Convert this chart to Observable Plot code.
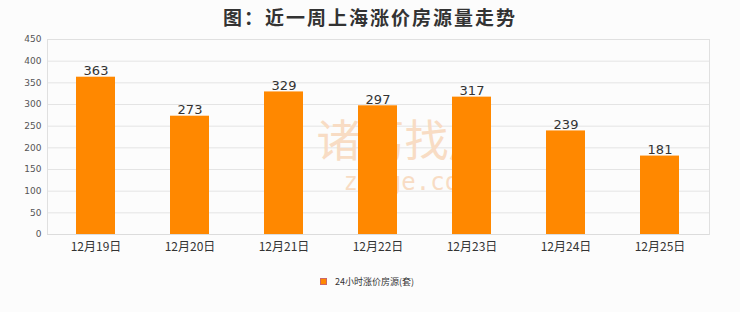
<!DOCTYPE html>
<html>
<head>
<meta charset="utf-8">
<script src="https://cdn.jsdelivr.net/npm/d3@7"></script>
<script src="https://cdn.jsdelivr.net/npm/@observablehq/plot@0.6"></script>
<style>
  html, body { margin: 0; padding: 0; background: #fcfcfc; }
  #wrap { position: relative; width: 740px; height: 312px; overflow: hidden; }
  #title { position: absolute; left: 0; top: 3px; width: 740px; text-align: center;
    font: bold 19px "Noto Sans CJK SC", sans-serif; color: #333; letter-spacing: 2px; }
  #legend { position: absolute; left: 320px; top: 275px; display: flex; align-items: center;
    font: 9px "Noto Sans CJK SC", sans-serif; color: #333; }
  #legend .sw { width: 7px; height: 7px; background: #ff8800; margin-right: 8px; border: 0.5px solid #c66; box-sizing: border-box; }
  svg { position: absolute; left: 0; top: 0; }
</style>
</head>
<body>
<div id="wrap">
  <div id="chart"></div>
  <div id="title">图：近一周上海涨价房源量走势</div>
  <div id="legend"><div class="sw"></div><span>24小时涨价房源(套)</span></div>
</div>
<script>
const dates = ["12月19日", "12月20日", "12月21日", "12月22日", "12月23日", "12月24日", "12月25日"];
const counts = [363, 273, 329, 297, 317, 239, 181];
const yTicks = [0, 50, 100, 150, 200, 250, 300, 350, 400, 450];
const seriesName = "24小时涨价房源(套)";

const data = dates.map((d, i) => ({date: d, value: counts[i]}));

const chart = Plot.plot({
  width: 740,
  height: 312,
  marginLeft: 47,
  marginRight: 31,
  marginTop: 39,
  marginBottom: 78,
  style: {background: "transparent", fontFamily: "'Noto Sans CJK SC', sans-serif"},
  x: {domain: dates, paddingInner: 0.58, paddingOuter: 0.29, label: null, tickSize: 0, tickPadding: 7},
  y: {domain: [0, 450], ticks: yTicks, label: null, tickSize: 0, tickPadding: 6, tickFormat: d => d},
  marks: [
    Plot.gridY(yTicks, {stroke: "#e4e4e4", strokeOpacity: 1}),
    Plot.frame({stroke: "#e0e0e0"}),
    Plot.text(["诸葛找房"], {frameAnchor: "middle", dx: 26, dy: 6, fontSize: 44, fill: "#f8dcc4", fontWeight: "normal"}),
    Plot.text(["zhuge.com"], {frameAnchor: "middle", dx: 30, dy: 45, fontSize: 24, fill: "#f8dcc4", fontFamily: "DejaVu Sans Mono, monospace", letterSpacing: 7}),
    Plot.barY(data, {x: "date", y: "value", fill: "#ff8800"}),
    Plot.text(data, {x: "date", y: "value", text: d => String(d.value), lineAnchor: "bottom", dy: -2, fontSize: 13, fill: "#333", fontFamily: "DejaVu Sans, sans-serif"}),
    Plot.axisX({tickSize: 0, tickPadding: 8, fontSize: 12, fill: "#333"}),
    Plot.axisY({ticks: yTicks, tickSize: 0, tickPadding: 6, fontSize: 9, fill: "#555", fontFamily: "DejaVu Sans, sans-serif"}),
    Plot.ruleY([0], {stroke: "#dcdcdc"})
  ]
});
document.getElementById("chart").appendChild(chart);
</script>
</body>
</html>
